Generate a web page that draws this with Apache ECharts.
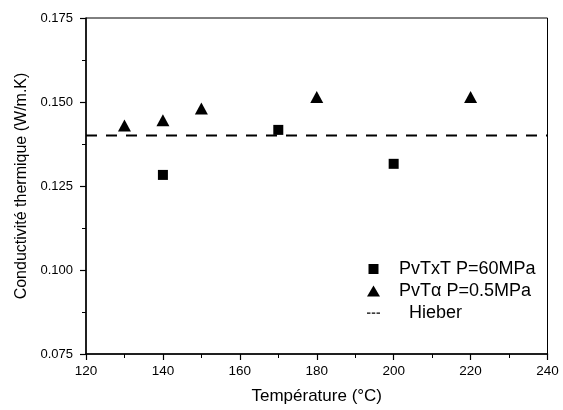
<!DOCTYPE html>
<html>
<head>
<meta charset="utf-8">
<script src="https://cdn.jsdelivr.net/npm/echarts@6/dist/echarts.min.js"></script>
<style>
    html, body { margin: 0; padding: 0; background: #fff; }
    #chart { width: 563px; height: 410px; }
</style>
</head>
<body>
<div id="chart"></div>
<script>
    // données
    var pvtxtTemp = [140, 170, 200];
    var pvtxtK = [0.1283, 0.1417, 0.1316];
    var pvtaTemp = [130, 140, 150, 180, 220];
    var pvtaK = [0.1430, 0.1446, 0.1481, 0.1515, 0.1515];
    var hieberTemp = [120, 240];
    var hieberK = [0.140, 0.140];
    var xTicks = [120, 140, 160, 180, 200, 220, 240];
    var yTicks = [0.075, 0.100, 0.125, 0.150, 0.175];

    function pairs(xs, ys) {
        return xs.map(function (x, i) { return [x, ys[i]]; });
    }

    var font = 'Arial, "Liberation Sans", sans-serif';
    var myChart = echarts.init(document.getElementById('chart'));
    var option = {
        animation: false,
        textStyle: { fontFamily: font, color: '#000' },
        grid: {
            left: 86, right: 15.5, top: 18, bottom: 54,
            show: true, borderColor: '#000', borderWidth: 1
        },
        legend: {
            orient: 'vertical',
            left: 362,
            top: 255,
            itemWidth: 13,
            itemHeight: 11,
            itemGap: 4,
            textStyle: { fontFamily: font, fontSize: 18, color: '#000', padding: [0, 0, 0, 14] },
            formatter: function (name) {
                return name === 'Hieber' ? '{h|Hieber}' : name;
            },
            data: [
                { name: 'PvTxT P=60MPa', icon: 'path://M1.5,0.5h10v10h-10z M0,0 M13,11' },
                { name: 'PvTα P=0.5MPa', icon: 'triangle' },
                {
                    name: 'Hieber',
                    icon: 'path://M0,5h4v1.3h-4z M5.5,5h4v1.3h-4z M11,5h4v1.3h-4z M0,0 M15,11',
                    itemStyle: { color: '#000' },
                    textStyle: { rich: { h: { fontFamily: font, fontSize: 18, color: '#000', padding: [0, 0, 0, 10] } } }
                }
            ]
        },
        xAxis: {
            type: 'value',
            min: xTicks[0],
            max: xTicks[xTicks.length - 1],
            interval: 20,
            name: 'Température (°C)',
            nameLocation: 'middle',
            nameGap: 34,
            nameTextStyle: { fontFamily: font, fontSize: 17, color: '#000' },
            axisLine: { lineStyle: { color: '#000', width: 1.5 } },
            axisTick: { length: 6, lineStyle: { color: '#000', width: 1.2 } },
            minorTick: { show: true, splitNumber: 2, length: 4, lineStyle: { color: '#000', width: 1 } },
            axisLabel: { fontFamily: font, fontSize: 13.5, color: '#000', margin: 10 },
            splitLine: { show: false }
        },
        yAxis: {
            type: 'value',
            min: yTicks[0],
            max: yTicks[yTicks.length - 1],
            interval: 0.025,
            name: 'Conductivité thermique (W/m.K)',
            nameLocation: 'middle',
            nameGap: 51,
            nameTextStyle: { fontFamily: font, fontSize: 16, color: '#000' },
            axisLine: { lineStyle: { color: '#000', width: 1.5 } },
            axisTick: { length: 6, lineStyle: { color: '#000', width: 1.2 } },
            minorTick: { show: true, splitNumber: 2, length: 4, lineStyle: { color: '#000', width: 1 } },
            axisLabel: {
                fontFamily: font, fontSize: 13, color: '#000', margin: 13,
                formatter: function (v) { return v.toFixed(3); }
            },
            splitLine: { show: false }
        },
        series: [{
            name: 'Hieber',
            type: 'line',
            data: pairs(hieberTemp, hieberK),
            symbol: 'none',
            lineStyle: { color: '#000', width: 2, type: [11, 9] },
            itemStyle: { color: '#000' },
            z: 1
        }, {
            name: 'PvTxT P=60MPa',
            type: 'scatter',
            data: pairs(pvtxtTemp, pvtxtK),
            symbol: 'rect',
            symbolSize: 10,
            itemStyle: { color: '#000', opacity: 1 },
            z: 3
        }, {
            name: 'PvTα P=0.5MPa',
            type: 'scatter',
            data: pairs(pvtaTemp, pvtaK),
            symbol: 'triangle',
            symbolSize: [13, 12],
            itemStyle: { color: '#000', opacity: 1 },
            z: 3
        }]
    };
    myChart.setOption(option);
</script>
</body>
</html>
